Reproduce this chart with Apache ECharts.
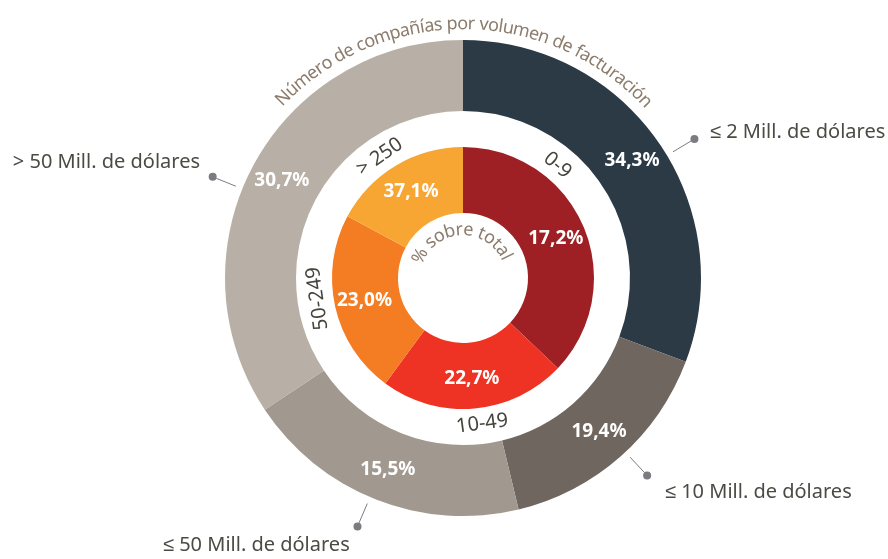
<!DOCTYPE html>
<html lang="es">
<head>
<meta charset="UTF-8">
<title>Número de compañías por volumen de facturación</title>
<script src="https://cdn.jsdelivr.net/npm/echarts@6/dist/echarts.min.js"></script>
<style>html,body{margin:0;padding:0;background:#fff}</style>
</head>
<body>
<div id="main" style="width:888px;height:559px;"></div>
<script>
// datos del gráfico
var outerNames = ['≤ 2 Mill. de dólares', '≤ 10 Mill. de dólares', '≤ 50 Mill. de dólares', '> 50 Mill. de dólares'];
var outerPct = [34.3, 19.4, 15.5, 30.7];
var innerNames = ['0-9', '10-49', '50-249', '> 250'];
var innerPct = [17.2, 22.7, 23.0, 37.1];

var outerColors = ['#2c3a46', '#6f6660', '#a1988f', '#b8b0a6'];
var innerColors = ['#9f2024', '#ee3223', '#f47c22', '#f8a633'];

// en el original los sectores están dibujados en orden inverso a las etiquetas
var outerDrawn = outerPct.slice().reverse();
var innerDrawn = innerPct.slice().reverse();

var cx = 463, cy = 278;
var FONT = '"Noto Sans", sans-serif';

function pctText(v) {
    return v.toFixed(1).replace('.', ',') + '%';
}

function polar(r, deg) {
    var a = deg * Math.PI / 180;
    return [cx + r * Math.sin(a), cy - r * Math.cos(a)];
}

// texto curvo letra a letra
function arcText(str, r, midDeg, spanDeg, size, color) {
    var ctx = document.createElement('canvas').getContext('2d');
    ctx.font = size + 'px ' + FONT;
    var chars = Array.from(str);
    var widths = chars.map(function (c) { return ctx.measureText(c).width; });
    var total = widths.reduce(function (a, b) { return a + b; }, 0);
    var scale = (spanDeg * Math.PI / 180 * r) / total;
    var a = (midDeg - spanDeg / 2) * Math.PI / 180;
    var els = [];
    chars.forEach(function (c, i) {
        var w = widths[i] * scale;
        var ang = a + (w / 2) / r;
        els.push({
            type: 'text', silent: true,
            x: cx + r * Math.sin(ang), y: cy - r * Math.cos(ang),
            rotation: -ang,
            style: { text: c, fontSize: size, fontFamily: FONT, fill: color, align: 'center', verticalAlign: 'middle' }
        });
        a += w / r;
    });
    return els;
}

var myChart = echarts.init(document.getElementById('main'));

var graphics = [];
graphics = graphics.concat(arcText('Número de compañías por volumen de facturación', 254, 0.3, 93.5, 18, '#8c7c6c'));
graphics = graphics.concat(arcText('% sobre total', 48, -2.5, 139, 18, '#8c7c6c'));

// etiquetas de los tramos de empleados (en el anillo blanco)
var innerLabelAngles = [40, 172.5, 262, 325.5];
innerNames.forEach(function (n, i) {
    var deg = innerLabelAngles[i];
    var ang = deg * Math.PI / 180;
    var rot = (deg > 90 && deg < 250) ? -(ang - Math.PI) : -ang;
    var p = polar(147, deg);
    graphics.push({
        type: 'text', silent: true,
        x: p[0], y: p[1],
        rotation: rot,
        style: { text: n, fontSize: 20, fontFamily: FONT, fill: '#45443d', align: 'center', verticalAlign: 'middle' }
    });
});

// etiquetas de facturación
var outerLabelPos = [[710, 132, 'left'], [665, 492, 'left'], [163, 545, 'left'], [200, 162, 'right']];
outerNames.forEach(function (n, i) {
    var p = outerLabelPos[i];
    graphics.push({
        type: 'text', silent: true, x: p[0], y: p[1],
        style: { text: n, fontSize: 20, fontFamily: FONT, fill: '#4b4a43', align: p[2], verticalAlign: 'middle' }
    });
});

// ángulo de cada línea guía (desde arriba, sentido horario)
var guideAngles = [59, 137, 203, 292];

var labelStyle = {
    position: 'inside',
    color: '#fff',
    fontSize: 19,
    fontWeight: 'bold',
    fontFamily: FONT
};

var option = {
    animation: false,
    series: [
        {
            name: 'facturación',
            type: 'pie',
            center: [cx, cy],
            radius: [167, 238],
            startAngle: 90,
            clockwise: true,
            silent: true,
            avoidLabelOverlap: false,
            emphasis: { disabled: true },
            label: Object.assign({}, labelStyle, {
                formatter: function (p) { return pctText(outerPct[p.dataIndex]); }
            }),
            labelLine: { show: false },
            data: outerDrawn.map(function (v, i) {
                return { value: v, name: outerNames[i], itemStyle: { color: outerColors[i] } };
            })
        },
        {
            // líneas guía con punto
            name: 'guias',
            type: 'pie',
            center: [cx, cy],
            radius: [167, 245],
            startAngle: 90,
            clockwise: true,
            silent: true,
            avoidLabelOverlap: false,
            emphasis: { disabled: true },
            itemStyle: { color: 'rgba(0,0,0,0)' },
            label: {
                position: 'outside',
                distanceToLabelLine: 0,
                formatter: '{d|}',
                rich: { d: { width: 8, height: 8, borderRadius: 4, backgroundColor: '#7b7c80' } }
            },
            labelLine: { show: true, length: 21, length2: 0, lineStyle: { color: '#7b7c80', width: 1 } },
            labelLayout: function (params) {
                var deg = guideAngles[params.dataIndex];
                var dot = polar(270, deg);
                return {
                    x: dot[0], y: dot[1],
                    align: 'center', verticalAlign: 'middle',
                    labelLinePoints: [polar(245, deg), polar(266, deg), polar(266, deg)]
                };
            },
            data: outerDrawn.map(function (v, i) { return { value: v, name: outerNames[i] }; })
        },
        {
            name: 'empleados',
            type: 'pie',
            center: [cx, cy],
            radius: [65, 131],
            startAngle: 90,
            clockwise: true,
            silent: true,
            avoidLabelOverlap: false,
            emphasis: { disabled: true },
            label: Object.assign({}, labelStyle, {
                formatter: function (p) { return pctText(innerPct[p.dataIndex]); }
            }),
            labelLine: { show: false },
            data: innerDrawn.map(function (v, i) {
                return { value: v, name: innerNames[i], itemStyle: { color: innerColors[i] } };
            })
        }
    ],
    graphic: graphics
};

myChart.setOption(option);
</script>
</body>
</html>
